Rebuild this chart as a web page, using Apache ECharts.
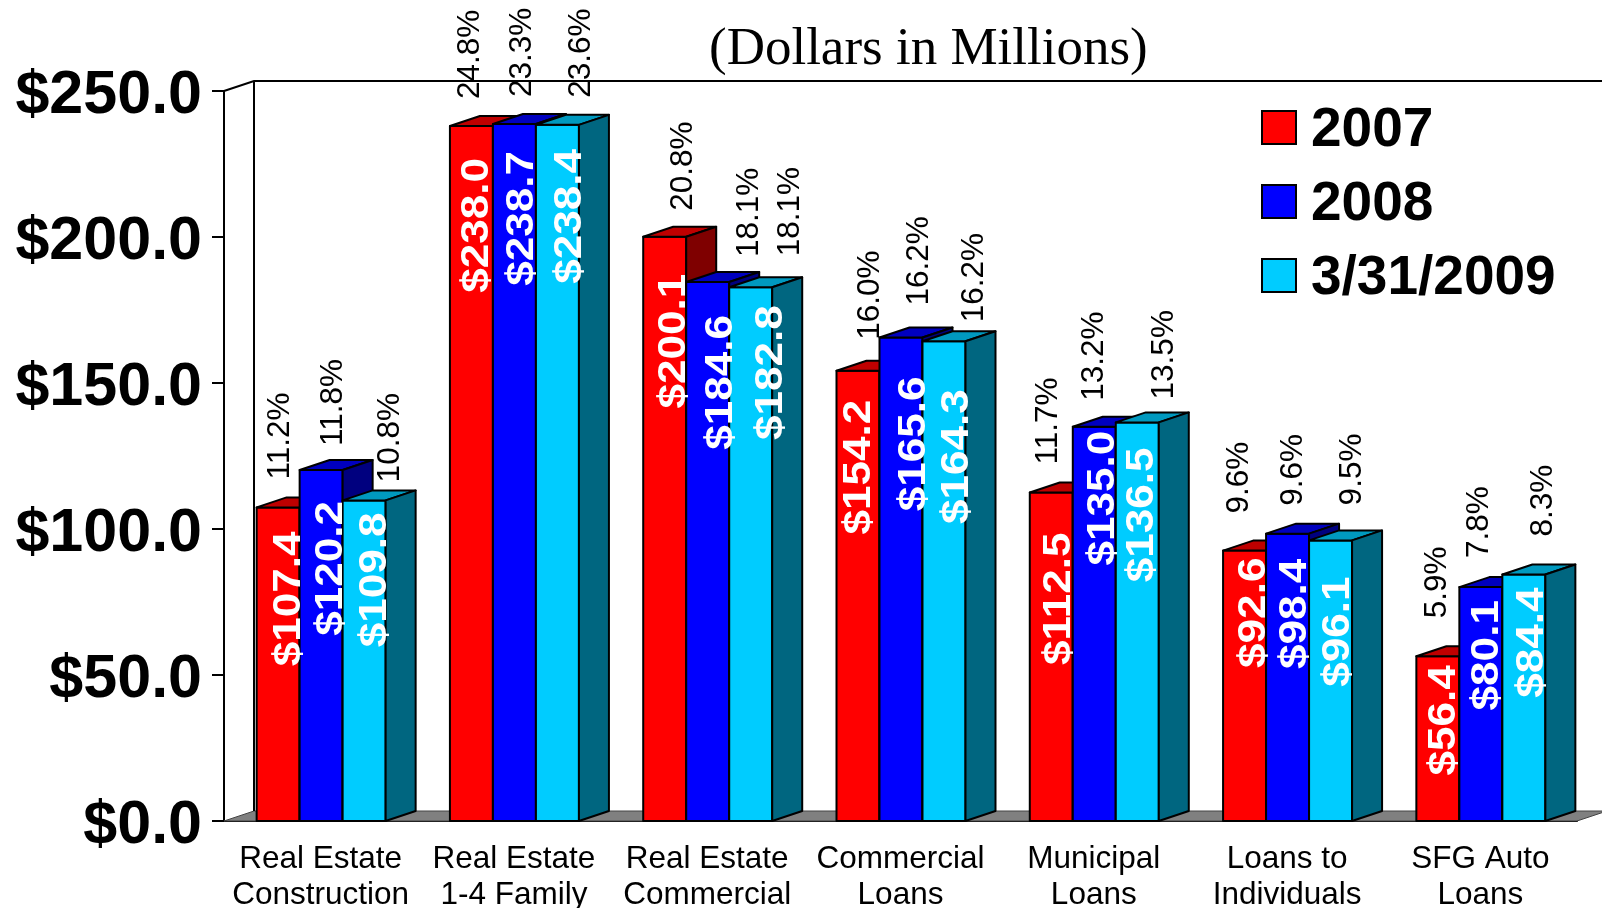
<!DOCTYPE html>
<html lang="en">
<head>
  <meta charset="UTF-8">
  <title>Loans by Category</title>
  <script src="https://cdn.jsdelivr.net/npm/echarts@6/dist/echarts.min.js"></script>
  <style>
    html, body { margin: 0; padding: 0; background: #fff; }
  </style>
</head>
<body>
  <div id="app" style="width: 1602px; height: 908px;"></div>
  <script>
    var categories = [
      'Real Estate\nConstruction', 'Real Estate\n1-4 Family', 'Real Estate\nCommercial',
      'Commercial\nLoans', 'Municipal\nLoans', 'Loans to\nIndividuals', 'SFG Auto\nLoans'
    ]
    var seriesNames = ['2007', '2008', '3/31/2009']
    var yTickLabels = ['$0.0', '$50.0', '$100.0', '$150.0', '$200.0', '$250.0']

    var values2007 = [107.4, 238.0, 200.1, 154.2, 112.5, 92.6, 56.4]
    var values2008 = [120.2, 238.7, 184.6, 165.6, 135.0, 98.4, 80.1]
    var values2009 = [109.8, 238.4, 182.8, 164.3, 136.5, 96.1, 84.4]

    var pct2007 = [11.2, 24.8, 20.8, 16.0, 11.7, 9.6, 5.9]
    var pct2008 = [11.8, 23.3, 18.1, 16.2, 13.2, 9.6, 7.8]
    var pct2009 = [10.8, 23.6, 18.1, 16.2, 13.5, 9.5, 8.3]

    // label placement, the original has these labels hand dragged, [x shift, gap below/above bar top]
    var valueLabelNudge = [
      [[11, 24], [10, 31], [11, 12]],
      [[6, 32], [8, 27], [13, 24]],
      [[10, 37], [14, 33], [21, 18]],
      [[2, 29], [14, 39], [14, 48]],
      [[8, 40], [9, 4], [5, 25]],
      [[10, 7], [8, 25], [8, 36]],
      [[7, 9], [7, 13], [9, 13]]
    ]
    var pctLabelNudge = [
      [[2, 28], [12, 24], [26, 18]],
      [[-1, 27], [8, 27], [24, 27]],
      [[19, 26], [42, 25], [40, 31]],
      [[12, 31], [18, 32], [30, 19]],
      [[-3, 28], [0, 26], [27, 23]],
      [[-5, 37], [6, 28], [22, 35]],
      [[-1, 38], [-2, 29], [19, 38]]
    ]

    var colors = [
      { front: '#ff0000', top: '#bf0000', side: '#7f0000' },
      { front: '#0000ff', top: '#0000bf', side: '#00007f' },
      { front: '#00ccff', top: '#0099bf', side: '#006680' }
    ]
    var barWidth = 43
    var depthX = 30
    var depthY = 10
    var line = { stroke: '#000', lineWidth: 2, lineJoin: 'round' }

    function makeRows(vals, pcts) {
      var rows = []
      for (var i = 0; i < vals.length; i++) {
        rows.push([i, vals[i], pcts[i]])
      }
      return rows
    }

    function poly(points, fill) {
      return { type: 'polygon', shape: { points: points }, style: { fill: fill, stroke: line.stroke, lineWidth: line.lineWidth, lineJoin: line.lineJoin } }
    }

    function barRenderer(j) {
      return function (params, api) {
        var idx = api.value(0)
        var val = api.value(1)
        var topPt = api.coord([idx, val])
        var basePt = api.coord([idx, 0])
        var x0 = topPt[0] - 64 + barWidth * j
        var x1 = x0 + barWidth
        var yt = topPt[1]
        var yb = basePt[1]
        var c = colors[j]
        var mid = x0 + barWidth / 2
        var vn = valueLabelNudge[idx][j]
        var pn = pctLabelNudge[idx][j]
        return {
          type: 'group',
          children: [
            poly([[x0, yb], [x1, yb], [x1, yt], [x0, yt]], c.front),
            poly([[x0, yt], [x0 + depthX, yt - depthY], [x1 + depthX, yt - depthY], [x1, yt]], c.top),
            poly([[x1, yb], [x1 + depthX, yb - depthY], [x1 + depthX, yt - depthY], [x1, yt]], c.side),
            {
              type: 'text', z2: 100, x: mid + vn[0], y: yt + vn[1], rotation: Math.PI / 2, scaleX: 1.16,
              style: { text: '$' + val.toFixed(1), fill: '#fff', font: 'bold 38px "Liberation Sans"', align: 'right', verticalAlign: 'middle' }
            },
            {
              type: 'text', z2: 100, x: mid + pn[0], y: yt - pn[1], rotation: Math.PI / 2,
              style: { text: api.value(2).toFixed(1) + '%', fill: '#000', font: '31.5px "Liberation Sans"', align: 'left', verticalAlign: 'middle' }
            }
          ]
        }
      }
    }

    // back wall and floor of the fake 3d box
    function wallRenderer(params) {
      var g = params.coordSys
      var l = g.x, r = g.x + g.width, t = g.y, b = g.y + g.height
      return {
        type: 'group',
        children: [
          { type: 'polygon', shape: { points: [[l, b], [l + depthX, b - depthY], [r + depthX, b - depthY], [r, b]] }, style: { fill: '#808080', stroke: '#444', lineWidth: 1 } },
          { type: 'polyline', shape: { points: [[l, t], [l + depthX, t - depthY], [r + depthX, t - depthY]] }, style: { fill: 'none', stroke: '#000', lineWidth: 2 } },
          { type: 'line', shape: { x1: l + depthX, y1: t - depthY, x2: l + depthX, y2: b - depthY }, style: { stroke: '#000', lineWidth: 2 } }
        ]
      }
    }

    var allValues = [values2007, values2008, values2009]
    var allPcts = [pct2007, pct2008, pct2009]
    var series = [
      { type: 'custom', name: 'wall', renderItem: wallRenderer, data: [[0, 0]], silent: true, z: 1 }
    ]
    for (var j = 0; j < seriesNames.length; j++) {
      series.push({
        type: 'custom',
        name: seriesNames[j],
        renderItem: barRenderer(j),
        data: makeRows(allValues[j], allPcts[j]),
        itemStyle: { color: colors[j].front },
        z: 2
      })
    }

    var mCharts = echarts.init(document.querySelector('#app'))
    var option = {
      animation: false,
      title: {
        text: '(Dollars in Millions)',
        left: 704,
        top: 19,
        textStyle: { fontFamily: 'Liberation Serif', fontSize: 53, fontWeight: 'normal', color: '#000' }
      },
      legend: {
        data: seriesNames,
        orient: 'vertical',
        left: 1256,
        top: 98,
        icon: 'rect',
        itemWidth: 34,
        itemHeight: 33,
        itemGap: 19,
        formatter: '{t|{name}}',
        textStyle: {
          rich: {
            t: { fontFamily: 'Liberation Sans', fontSize: 55, fontWeight: 'bold', color: '#000', padding: [6, 0, 0, 10] }
          }
        },
        itemStyle: { borderColor: '#000', borderWidth: 2 }
      },
      grid: { left: 224, right: 25, top: 91, bottom: 87, outerBoundsMode: 'none' },
      xAxis: {
        type: 'category',
        data: categories,
        axisLine: { lineStyle: { color: '#000', width: 2 } },
        axisTick: { length: 11, lineStyle: { color: '#000', width: 2 } },
        axisLabel: { fontFamily: 'Liberation Sans', fontSize: 31.5, color: '#000', lineHeight: 36, margin: 20, interval: 0 }
      },
      yAxis: {
        type: 'value',
        min: 0,
        max: 250,
        interval: 50,
        splitLine: { show: false },
        axisLine: { show: true, lineStyle: { color: '#000', width: 2 } },
        axisTick: { show: true, length: 12, lineStyle: { color: '#000', width: 2 } },
        axisLabel: {
          fontFamily: 'Liberation Sans',
          fontSize: 61,
          fontWeight: 'bold',
          color: '#000',
          margin: 22,
          verticalAlign: 'top', // small lineHeight drops the glyphs a bit under the tick
          lineHeight: 10,
          formatter: function (value, index) {
            return yTickLabels[index]
          }
        }
      },
      series: series
    }
    mCharts.setOption(option)
  </script>
</body>
</html>
